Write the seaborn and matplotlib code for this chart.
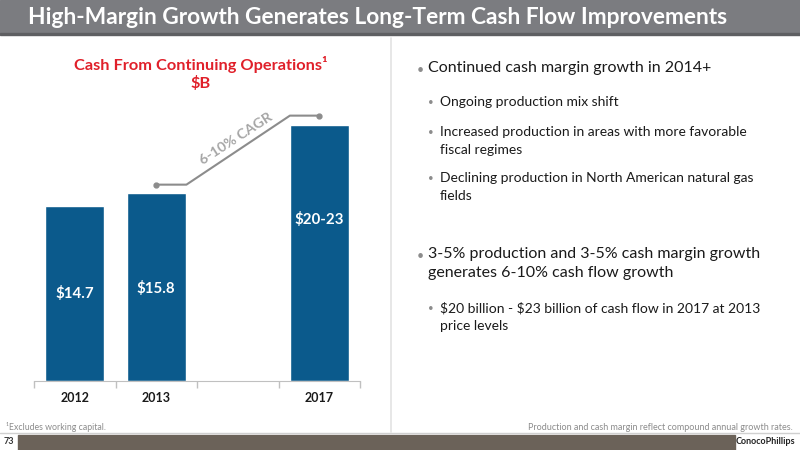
import numpy as np
import pandas as pd
import seaborn as sns
import matplotlib.pyplot as plt
from matplotlib.patches import Rectangle
from matplotlib.lines import Line2D

# Chart data:
years = ['2012', '2013', '', '2017']
cash = [14.7, 15.8, np.nan, 21.5]
bar_labels = ['$14.7', '$15.8', '', '$20-23']
cagr_label = '6-10% CAGR'

bullets = [
    ('Continued cash margin growth in 2014+', 0),
    ('Ongoing production mix shift', 1),
    ('Increased production in areas with more favorable\nfiscal regimes', 1),
    ('Declining production in North American natural gas\nfields', 1),
    ('3-5% production and 3-5% cash margin growth\ngenerates 6-10% cash flow growth', 0),
    ('$20 billion - $23 billion of cash flow in 2017 at 2013\nprice levels', 1),
]
bullet_y = [71, 102, 132, 178, 257, 308]

sns.set_style('white')
plt.rcParams['font.family'] = ['Lato', 'DejaVu Sans']

W, H = 800, 450
fig = plt.figure(figsize=(8, 4.5), dpi=100)


def fx(x):
    return x / W


def fy(y):
    return 1 - y / H


# Header bar:
fig.patches.append(Rectangle((0, fy(33)), 1, 33 / H, transform=fig.transFigure,
                             color='#7b7c80', zorder=0))
fig.patches.append(Rectangle((0, fy(35)), 1, 2 / H, transform=fig.transFigure,
                             color='#5e5f62', zorder=0))
fig.text(fx(28), fy(17), 'High-Margin Growth Generates Long-Term Cash Flow Improvements',
         color='white', fontsize=16.4, fontweight='bold', va='center', ha='left')

# Separators and footer:
fig.add_artist(Line2D([fx(391), fx(391)], [fy(38), fy(432)], color='#e3e3e3', lw=1.2))
fig.add_artist(Line2D([0, 1], [fy(433), fy(433)], color='#d0d0d0', lw=1))
fig.patches.append(Rectangle((fx(18), 0), fx(735 - 18), 15 / H, transform=fig.transFigure,
                             color='#6b6259', zorder=0))
fig.text(fx(4), fy(442), '73', fontsize=6.5, fontweight='bold', color='#333333', va='center')
fig.text(fx(765), fy(442), 'ConocoPhillips', fontsize=6.5, fontweight='bold', color='#222222',
         va='center', ha='center')
fig.text(fx(6), fy(427), '\u00b9Excludes working capital.', fontsize=6.3, color='#8c8c8c',
         va='center')
fig.text(fx(793), fy(427), 'Production and cash margin reflect compound annual growth rates.',
         fontsize=6.5, color='#8c8c8c', va='center', ha='right')

# Chart title:
fig.text(fx(201), fy(65), 'Cash From Continuing Operations\u00b9', color='#e0202a',
         fontsize=11.8, fontweight='bold', ha='center', va='center')
fig.text(fx(201), fy(83), '$B', color='#e0202a', fontsize=11.8, fontweight='bold',
         ha='center', va='center', parse_math=False)

# Bar chart:
px_per_unit = 11.9
ax_top, ax_base = 110, 381
ax = fig.add_axes([fx(34), fy(ax_base), fx(360 - 34), (ax_base - ax_top) / H])
df = pd.DataFrame({'year': years, 'cash': cash})
sns.barplot(data=df, x='year', y='cash', order=years, color='#0b5a8c', saturation=1,
            width=0.73, ax=ax)
ax.set_xlim(-0.5, len(years) - 0.5)
ax.set_ylim(0, (ax_base - ax_top) / px_per_unit)
ax.set_xlabel('')
ax.set_ylabel('')
ax.set_yticks([])
ax.set_xticks(range(len(years)))
ax.set_xticklabels(years, fontsize=9, fontweight='bold', color='#1a1a1a')
ax.set_xticks(np.arange(-0.5, len(years)), minor=True)
ax.tick_params(axis='x', which='major', length=0, pad=8)
ax.tick_params(axis='x', which='minor', length=5, color='#c0c0c0', width=1, bottom=True)
for side in ['top', 'right', 'left']:
    ax.spines[side].set_visible(False)
ax.spines['bottom'].set_color('#c0c0c0')

label_frac = [0.5, 0.49, 0, 0.63]
for i, (v, lab) in enumerate(zip(cash, bar_labels)):
    if lab:
        ax.text(i, v * label_frac[i], lab, color='white', fontsize=10.8, fontweight='bold',
                ha='center', va='center', parse_math=False)

# CAGR bracket from 2013 to 2017:
i0, i1 = years.index('2013'), years.index('2017')
y0, y1 = cash[i0] + 0.7, cash[i1] + 0.8
bx = [i0, i0 + 0.37, i1 - 0.36, i1]
by = [y0, y0, y1, y1]
ax.plot(bx, by, color='#8c8c8c', lw=1.5, clip_on=False)
ax.plot([bx[0], bx[-1]], [by[0], by[-1]], 'o', color='#8c8c8c', ms=3.5, clip_on=False)
ax.text(1.98, 20.35, cagr_label, color='#a6a6a6', fontsize=10.3, fontweight='bold',
        rotation=33, rotation_mode='anchor', ha='center', va='center')

# Bullet text on right:
for (text, level), y in zip(bullets, bullet_y):
    if level == 0:
        fig.text(fx(420), fy(y - 1), '\u2022', color='#8c8c8c', fontsize=9, va='center',
                 ha='center')
        fig.text(fx(428), fy(y - 10), text, fontsize=11.5, color='#1a1a1a', va='top',
                 linespacing=1.49, parse_math=False)
    else:
        fig.text(fx(431), fy(y), '\u2022', color='#8c8c8c', fontsize=7, va='center',
                 ha='center')
        fig.text(fx(440), fy(y - 6), text, fontsize=10, color='#1a1a1a', va='top',
                 linespacing=1.56, parse_math=False)

fig.savefig('out.png', dpi=100)
